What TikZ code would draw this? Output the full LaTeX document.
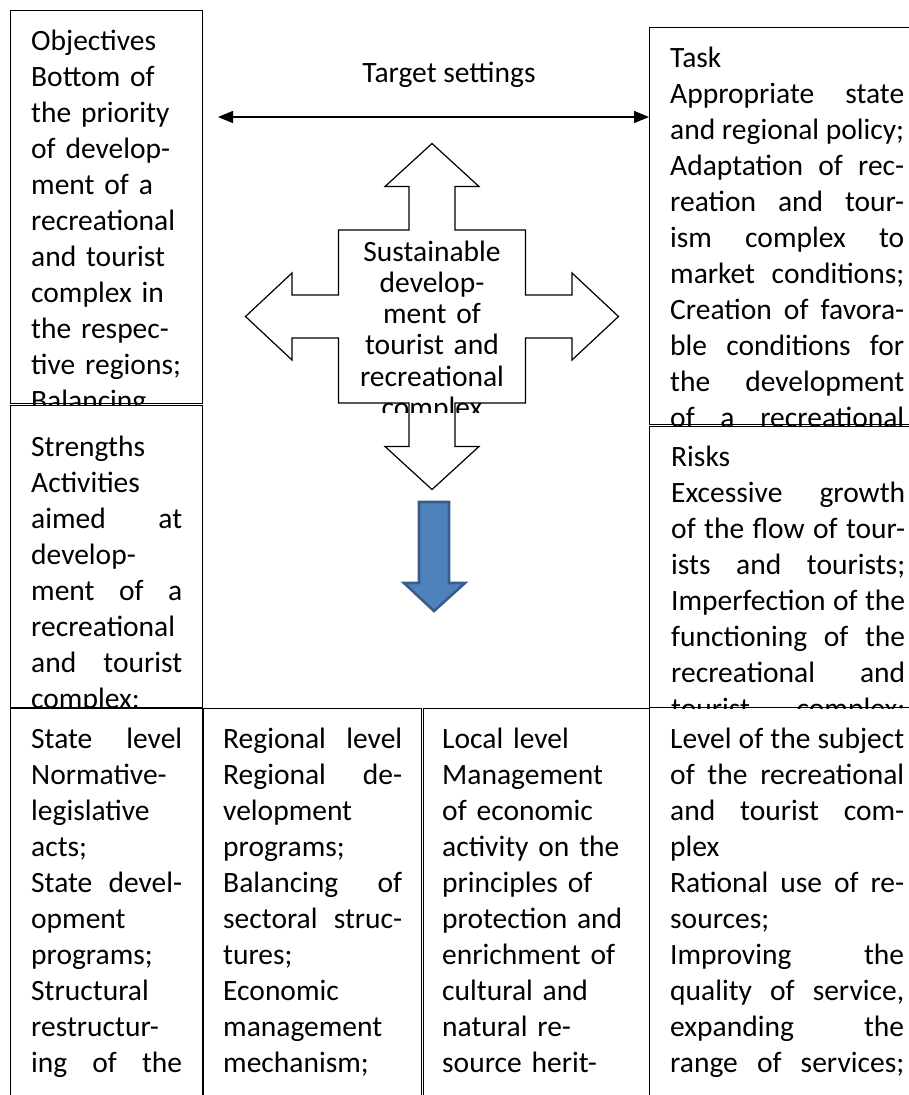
\documentclass[tikz,border=0pt]{standalone}
\usepackage{fontspec}
\setmainfont{Carlito}
\usetikzlibrary{arrows.meta}
\definecolor{arrowblue}{RGB}{79,129,189}
\definecolor{arrowedge}{RGB}{56,93,138}
\newcommand{\jl}[1]{\leavevmode\hbox to \linewidth{#1}}
\frenchspacing

\begin{document}
\begin{tikzpicture}[x=1pt, y=-1pt,
    frame/.style 2 args={draw, line width=1.3pt, inner sep=0pt, anchor=north west, minimum width=#1, minimum height=#2},
    txt/.style={inner sep=0pt, anchor=base west, align=left, text width=#1, font=\fontsize{29.5}{36}\selectfont},
    hubtxt/.style={inner sep=0pt, anchor=base, align=center, text width=180, font=\fontsize{29.5}{31.3}\selectfont,
        execute at begin node={\lineskiplimit=-40pt\relax}},
    quad/.style={draw, fill=white, line width=1.2pt, line join=miter},
    pointer/.style={draw=arrowedge, fill=arrowblue, line width=2.6pt, line join=miter},
    link/.style={{Triangle[length=15pt,width=12pt]}-{Triangle[length=15pt,width=12pt]}, line width=1.3pt}
]
    \useasboundingbox (0,0) rectangle (909,1095);
    \clip (0,0) rectangle (909,1095);

    % Boxes
    \node[frame={192}{393}] (objectives) at (10,10) {};
    \node[frame={192}{302}] (strengths) at (10,405) {};
    \node[frame={281}{397}] (task) at (649,27) {};
    \node[frame={281}{281}] (risks) at (649,426) {};
    \node[frame={192}{420}] (state) at (10,708) {};
    \node[frame={218}{420}] (regional) at (203,708) {};
    \node[frame={226}{420}] (local) at (423,708) {};
    \node[frame={281}{420}] (subject) at (649,707) {};

    % Texts, cut off at the box edges
    \begin{scope}
        \clip (objectives.north west) rectangle (objectives.south east);
        \node[txt=200] (objtext) at (31,50) {Objectives\\Bottom of\\the priority\\of develop-\\ment of a\\recreational\\and tourist\\complex in\\the respec-\\tive regions;\\Balancing};
    \end{scope}
    \begin{scope}
        \clip (strengths.north west) rectangle (strengths.south east);
        \node[txt=151] (strtext) at (31,456) {Strengths\\Activities\\\jl{aimed\hfill at}\\develop-\\\jl{ment\hfill of\hfill a}\\recreational\\\jl{and\hfill tourist}\\complex;};
    \end{scope}
    \begin{scope}
        \clip (task.north west) rectangle (task.south east);
        \node[txt=234] (tasktext) at (670,67) {Task\\\jl{Appropriate\hfill state}\\\jl{and\hfill regional\hfill policy;}\\\jl{Adaptation\hfill of\hfill rec-}\\\jl{reation\hfill and\hfill tour-}\\\jl{ism\hfill complex\hfill to}\\\jl{market\hfill conditions;}\\\jl{Creation\hfill of\hfill favora-}\\\jl{ble\hfill conditions\hfill for}\\\jl{the\hfill development}\\\jl{of\hfill a\hfill recreational}};
    \end{scope}
    \begin{scope}
        \clip (risks.north west) rectangle (risks.south east);
        \node[txt=234] (risktext) at (671,466) {Risks\\\jl{Excessive\hfill growth}\\\jl{of\hfill the\hfill flow\hfill of\hfill tour-}\\\jl{ists\hfill and\hfill tourists;}\\\jl{Imperfection\hfill of\hfill the}\\\jl{functioning\hfill of\hfill the}\\\jl{recreational\hfill and}\\\jl{tourist\hfill complex;}};
    \end{scope}
    \begin{scope}
        \clip (state.north west) rectangle (state.south east);
        \node[txt=151] (statetext) at (31,748) {\jl{State\hfill level}\\Normative-\\legislative\\acts;\\\jl{State\hfill devel-}\\opment\\programs;\\Structural\\restructur-\\\jl{ing\hfill of\hfill the}};
    \end{scope}
    \begin{scope}
        \clip (regional.north west) rectangle (regional.south east);
        \node[txt=179] (regtext) at (223,748) {\jl{Regional\hfill level}\\\jl{Regional\hfill de-}\\velopment\\programs;\\\jl{Balancing\hfill of}\\\jl{sectoral\hfill struc-}\\tures;\\Economic\\management\\mechanism;};
    \end{scope}
    \begin{scope}
        \clip (local.north west) rectangle (local.south east);
        \node[txt=200] (loctext) at (442,748) {Local level\\Management\\of economic\\activity on the\\principles of\\protection and\\enrichment of\\cultural and\\natural re-\\source herit-};
    \end{scope}
    \begin{scope}
        \clip (subject.north west) rectangle (subject.south east);
        \node[txt=234] (subtext) at (670,748) {\jl{Level\hfill of\hfill the\hfill subject}\\\jl{of\hfill the\hfill recreational}\\\jl{and\hfill tourist\hfill com-}\\plex\\\jl{Rational\hfill use\hfill of\hfill re-}\\sources;\\\jl{Improving\hfill the}\\\jl{quality\hfill of\hfill service,}\\\jl{expanding\hfill the}\\\jl{range\hfill of\hfill services;}};
    \end{scope}

    % Target settings
    \node[inner sep=0pt, anchor=base, font=\fontsize{29.5}{36}\selectfont] (target) at (449,82) {Target settings};
    \coordinate (tl) at (218,117);
    \draw[link] (tl) -- (tl -| task.west);

    % Quad arrow in the middle
    \coordinate (hub) at (432,316.5);
    \draw[quad, shift={(hub)}] (0,-173) -- (47,-130) -- (23,-130) -- (23,-86.5) -- (93.5,-86.5) -- (93.5,-21.5)
        -- (140,-21.5) -- (140,-43.5) -- (186.5,0) -- (140,43.5) -- (140,21.5) -- (93.5,21.5) -- (93.5,86.5) -- (23,86.5)
        -- (23,130) -- (47,130) -- (0,173) -- (-47,130) -- (-23,130) -- (-23,86.5) -- (-93.5,86.5)
        -- (-93.5,21.5) -- (-140,21.5) -- (-140,43.5) -- (-186.5,0) -- (-140,-43.5) -- (-140,-21.5) -- (-93.5,-21.5)
        -- (-93.5,-86.5) -- (-23,-86.5) -- (-23,-130) -- (-47,-130) -- cycle;
    \begin{scope}
        \clip (300,150) rectangle (560,412);
        \node[hubtxt] (hubtext) at (432,261) {Sustainable\\develop-\\ment of\\tourist and\\recreational\\complex};
    \end{scope}

    % Blue arrow
    \draw[pointer] (419,502) -- (449,502) -- (449,583) -- (465,583) -- (434,611) -- (404,583) -- (419,583) -- cycle;
\end{tikzpicture}
\end{document}
